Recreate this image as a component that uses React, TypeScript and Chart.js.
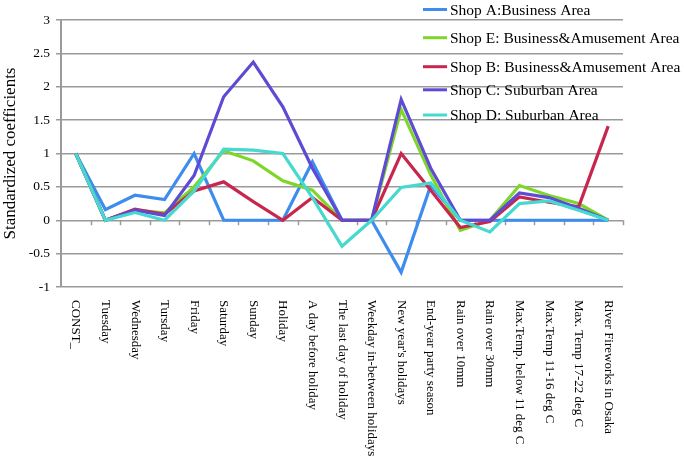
import React, { useEffect, useRef } from "react";
import { Chart, registerables } from "chart.js";

Chart.register(...registerables);

const categories = [
  "CONST_",
  "Tuesday",
  "Wednesday",
  "Tursday",
  "Friday",
  "Saturday",
  "Sunday",
  "Holiday",
  "A day before holiday",
  "The last day of holiday",
  "Weekday in-between holidays",
  "New year's holidays",
  "End-year party season",
  "Rain over 10mm",
  "Rain over 30mm",
  "Max.Temp. below 11 deg C",
  "Max.Temp 11-16 deg C",
  "Max. Temp 17-22 deg C",
  "River Fireworks in Osaka",
];

const shopA = [1, 0.16, 0.375, 0.31, 1.0, 0, 0, 0, 0.875, 0, 0, -0.78, 0.52, 0, 0, 0, 0, 0, 0];
const shopE = [1, 0, 0.15, 0.11, 0.5, 1.04, 0.89, 0.59, 0.45, 0, 0, 1.66, 0.68, -0.15, 0, 0.52, 0.37, 0.25, 0];
const shopB = [1, 0, 0.165, 0.09, 0.44, 0.575, 0.28, 0, 0.34, 0, 0, 1.0, 0.45, -0.11, -0.02, 0.35, 0.27, 0.2, 1.41];
const shopC = [1, 0, 0.15, 0.07, 0.67, 1.85, 2.37, 1.7, 0.78, 0, 0, 1.81, 0.78, 0, 0, 0.41, 0.34, 0.18, 0];
const shopD = [1, 0, 0.115, 0, 0.44, 1.065, 1.05, 1.0, 0.34, -0.39, 0, 0.49, 0.56, 0.0, -0.175, 0.25, 0.29, 0.15, 0];

const seriesNames = [
  "Shop A:Business Area",
  "Shop E: Business&Amusement Area",
  "Shop B: Business&Amusement Area",
  "Shop C: Suburban Area",
  "Shop D: Suburban Area",
];
const seriesColors = ["#3d8cee", "#7ed629", "#c8264f", "#5d4bd4", "#46d9cf"];
const seriesData = [shopA, shopE, shopB, shopC, shopD];

const yTitle = "Standardized coefficients";

const SERIF = '"Liberation Serif", "Times New Roman", serif';
const GRID = "#9a9a9a";

// legend layout (line centre y for each row)
const legendRowsY = [9.5, 37.7, 66.7, 89.8, 115];
const legendLineX = [423, 447];
const legendTextX = 450;

const decorPlugin = {
  id: "decor",
  beforeDatasetsDraw(chart: any) {
    const { ctx, chartArea, scales } = chart;
    const y0 = scales.y.getPixelForValue(0);
    const n = categories.length;
    const w = (chartArea.right - chartArea.left) / n;
    ctx.save();
    ctx.strokeStyle = GRID;
    ctx.lineWidth = 1.5;
    for (let i = 1; i <= n; i++) {
      const x = Math.round(chartArea.left + i * w) + 0.5;
      ctx.beginPath();
      ctx.moveTo(x, y0);
      ctx.lineTo(x, y0 + 5);
      ctx.stroke();
    }
    ctx.restore();
  },
  afterDraw(chart: any) {
    const { ctx, chartArea, scales } = chart;
    ctx.save();
    // x labels, rotated clockwise
    ctx.fillStyle = "#000";
    ctx.font = `13px ${SERIF}`;
    ctx.textAlign = "left";
    ctx.textBaseline = "middle";
    categories.forEach((lab, i) => {
      const x = scales.x.getPixelForValue(i);
      ctx.save();
      ctx.translate(x, chartArea.bottom + 13);
      ctx.rotate(Math.PI / 2);
      ctx.fillText(lab, 0, 0);
      ctx.restore();
    });
    // legend
    ctx.font = `15.5px ${SERIF}`;
    ctx.textBaseline = "alphabetic";
    seriesNames.forEach((name, i) => {
      const y = legendRowsY[i];
      ctx.strokeStyle = seriesColors[i];
      ctx.lineWidth = 3;
      ctx.beginPath();
      ctx.moveTo(legendLineX[0], y);
      ctx.lineTo(legendLineX[1], y);
      ctx.stroke();
      ctx.fillStyle = "#000";
      ctx.fillText(name, legendTextX, y + 5);
    });
    ctx.restore();
  },
};

export default function App() {
  const ref = useRef<HTMLCanvasElement | null>(null);

  useEffect(() => {
    if (!ref.current) return;
    const drawOrder = [5, 4, 3, 2, 1];
    const chart = new Chart(ref.current, {
      type: "line",
      data: {
        labels: categories,
        datasets: seriesNames.map((name, i) => ({
          label: name,
          data: seriesData[i],
          borderColor: seriesColors[i],
          backgroundColor: seriesColors[i],
          borderWidth: 3.2,
          pointRadius: 0,
          tension: 0,
          fill: false,
          order: drawOrder[i],
        })),
      },
      options: {
        responsive: false,
        animation: false,
        events: [],
        layout: { padding: { top: 20, right: 62, left: 0, bottom: 0 } },
        plugins: {
          legend: { display: false },
          tooltip: { enabled: false },
          title: { display: false },
        },
        scales: {
          x: {
            type: "category",
            offset: true,
            grid: { display: false, drawTicks: false },
            border: { display: false },
            ticks: { display: false },
            afterFit: (s: any) => {
              s.height = 175;
            },
          },
          y: {
            min: -1,
            max: 3,
            ticks: {
              stepSize: 0.5,
              color: "#000",
              font: { family: SERIF, size: 13.5 },
              padding: 6,
              callback: (v: any) => String(Number(v)),
            },
            grid: {
              color: GRID,
              lineWidth: 1.5,
              drawTicks: true,
              tickLength: 5,
              tickColor: GRID,
            },
            border: { display: true, color: GRID, width: 2 },
            title: {
              display: true,
              text: yTitle,
              color: "#000",
              font: { family: SERIF, size: 17, weight: "normal" },
              padding: { top: 0, bottom: 0 },
            },
            afterFit: (s: any) => {
              s.width = 61;
            },
          },
        },
      },
      plugins: [decorPlugin],
    });
    return () => chart.destroy();
  }, []);

  return (
    <div style={{ position: "fixed", left: 0, top: 0, width: 685, height: 462, background: "#fff" }}>
      <canvas ref={ref} width={685} height={462} style={{ display: "block" }} />
    </div>
  );
}
